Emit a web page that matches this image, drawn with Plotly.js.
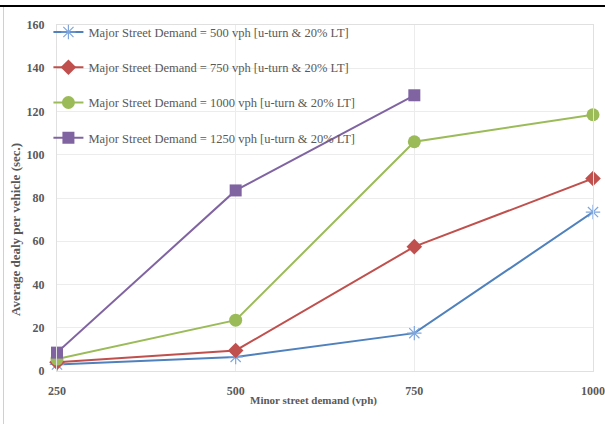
<!DOCTYPE html>
<html><head><meta charset="utf-8">
<script src="https://cdn.plot.ly/plotly-3.0.1.min.js"></script>
<style>
html,body{margin:0;padding:0;background:#fff;}
#wrap{position:relative;width:605px;height:424px;overflow:hidden;}
#chart{position:absolute;left:0;top:0;width:605px;height:424px;}
#topline{position:absolute;left:0;top:5px;width:605px;height:2px;background:#000;}
#leftline{position:absolute;left:3px;top:7px;width:1px;height:417px;background:#d0d0d0;}
</style></head>
<body><div id="wrap"><div id="chart"></div><div id="topline"></div><div id="leftline"></div></div>
<script>
const minorDemand = [250, 500, 750, 1000];
const delay500 = [3, 6.5, 17.5, 73.5];
const delay750 = [4, 9.5, 57.5, 89];
const delay1000 = [5.5, 23.5, 106, 118.5];
const delay1250 = [8.5, 83.5, 127.5];
const seriesNames = [
  "Major Street Demand = 500 vph [u-turn & 20% LT]",
  "Major Street Demand = 750 vph [u-turn & 20% LT]",
  "Major Street Demand = 1000 vph [u-turn & 20% LT]",
  "Major Street Demand = 1250 vph [u-turn & 20% LT]"
];
const yTicks = [0, 20, 40, 60, 80, 100, 120, 140, 160];
const xTitle = 'Minor street demand (vph)';
const yTitle = 'Average dealy per vehicle (sec.)';
const FF = 'Liberation Serif, Times New Roman, serif';

function tr(y, name, color, sym, size, grp, mcolor){
  return {x: minorDemand.slice(0, y.length), y: y, name: name, mode: 'lines+markers',
    legendgroup: grp, cliponaxis: false,
    line: {color: color, width: 2},
    marker: {symbol: sym, size: size, color: mcolor || color, line: {color: mcolor || color, width: sym.indexOf('open')>=0 ? 1.2 : 0}}};
}
const data = [
  tr(delay500, seriesNames[0], '#4F81BD', 'asterisk-open', 12, 'a', '#7FA6DC'),
  tr(delay750, seriesNames[1], '#C0504D', 'diamond', 12, 'b'),
  tr(delay1000, seriesNames[2], '#9BBB59', 'circle', 13, 'c'),
  tr(delay1250, seriesNames[3], '#8064A2', 'square', 12, 'd')
];
const layout = {
  width: 605, height: 424,
  margin: {l: 57, r: 12, t: 25, b: 53},
  paper_bgcolor: '#fff', plot_bgcolor: '#fff',
  font: {family: FF, color: '#595959'},
  showlegend: true,
  legend: {x: -0.016, y: 1.022, xanchor: 'left', yanchor: 'top', bgcolor: 'rgba(0,0,0,0)',
    font: {size: 12.5, color: '#595959', family: FF},
    tracegroupgap: 16, itemwidth: 30},
  xaxis: {range: [250, 1000], tickvals: minorDemand, ticktext: minorDemand.map(String),
    showgrid: true, gridcolor: '#ececec', gridwidth: 1, zeroline: false,
    showline: true, linecolor: '#e0e0e0', mirror: true,
    ticks: 'outside', ticklen: 9, tickcolor: 'rgba(0,0,0,0)',
    tickfont: {size: 12, color: '#595959', family: FF, weight: 'bold'}},
  yaxis: {range: [0, 160], tickvals: yTicks, ticktext: yTicks.map(String),
    showgrid: true, gridcolor: '#ececec', gridwidth: 1, zeroline: false,
    showline: true, linecolor: '#e0e0e0', mirror: true,
    ticks: 'outside', ticklen: 9, tickcolor: 'rgba(0,0,0,0)',
    tickfont: {size: 12, color: '#595959', family: FF, weight: 'bold'}},
  annotations: [
    {text: '<b>' + xTitle + '</b>', xref: 'paper', yref: 'paper', x: (313-57)/536, y: -(401-371)/346,
     xanchor: 'center', yanchor: 'middle', showarrow: false, font: {size: 11, color: '#595959', family: FF}},
    {text: '<b>' + yTitle + '</b>', xref: 'paper', yref: 'paper', x: (16-57)/536, y: (371-230)/346,
     xanchor: 'center', yanchor: 'middle', textangle: -90, showarrow: false, font: {size: 13, color: '#595959', family: FF}}
  ]
};
Plotly.newPlot('chart', data, layout, {displayModeBar: false, staticPlot: true});
</script></body></html>
